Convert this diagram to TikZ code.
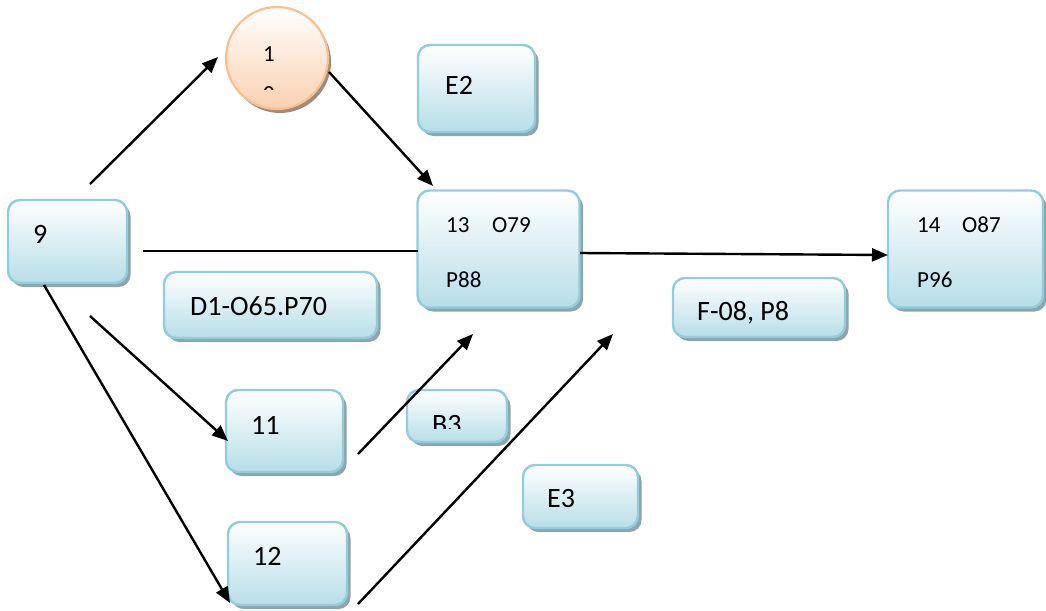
\documentclass[tikz,border=0pt]{standalone}
\usepackage{fontspec}
\setmainfont{Carlito}
\usetikzlibrary{shadows,arrows.meta}
\definecolor{boxborder}{RGB}{146,205,220}
\definecolor{boxfill}{RGB}{183,222,232}
\definecolor{shadowc}{RGB}{140,166,172}
\definecolor{circborder}{RGB}{250,192,143}
\definecolor{circfill}{RGB}{251,208,175}
\definecolor{circshadow}{RGB}{160,140,125}
\tikzset{
  box/.style={draw=boxborder, line width=2.4pt, rounded corners=12pt,
    top color=white, bottom color=boxfill, inner sep=0pt,
    general shadow={fill=shadowc, shadow xshift=3.5pt, shadow yshift=-4pt}},
  circ/.style={circle, draw=circborder, line width=2.2pt, inner sep=0pt,
    top color=white, bottom color=circfill,
    general shadow={fill=circshadow, shadow xshift=3pt, shadow yshift=-4pt}},
  big/.style={anchor=base west, inner sep=0pt, font=\fontsize{28}{34}\selectfont},
  small/.style={anchor=base west, inner sep=0pt, font=\fontsize{23}{27}\selectfont},
  arr/.style={line width=2.4pt, -{Triangle[length=16pt,width=13pt]}},
  ln/.style={line width=2.4pt},
}
\begin{document}
\begin{tikzpicture}[x=1pt,y=-1pt]
\useasboundingbox (0,0) rectangle (1046,610);
% boxes
\node[circ, minimum size=102pt] (n10) at (277,58) {};
\node[box, minimum width=117pt, minimum height=87pt] (e2) at (476.5,88.5) {};
\node[box, minimum width=119pt, minimum height=83pt] (n9) at (67.5,241.5) {};
\node[box, minimum width=162pt, minimum height=117pt] (n13) at (498.5,249) {};
\node[box, minimum width=155pt, minimum height=117pt] (n14) at (965.5,249) {};
\node[box, minimum width=213pt, minimum height=66pt] (d1) at (270.5,305) {};
\node[box, minimum width=172pt, minimum height=59pt] (f08) at (759,307.5) {};
\node[box, minimum width=117pt, minimum height=82pt] (n11) at (284.5,431) {};
\node[box, minimum width=100pt, minimum height=52pt] (b3) at (457,416) {};
\node[box, minimum width=115pt, minimum height=63pt] (e3) at (580.5,496.5) {};
\node[box, minimum width=119pt, minimum height=83pt] (n12) at (287.5,563.5) {};
% texts
\node[small] (t1) at (263,62) {1};
\begin{scope}
\clip (230,60) rectangle (320,89);
\node[small] (t0) at (263,101) {0};
\end{scope}
\node[big] (te2) at (445,94) {E2};
\node[big] (t9) at (33,243) {9};
\node[small] (t13) at (446,232) {13};
\node[small] (to79) at (492,232) {O79};
\node[small] (tp88) at (446,287) {P88};
\node[small] (t14) at (917,232) {14};
\node[small] (to87) at (962,232) {O87};
\node[small] (tp96) at (917,287) {P96};
\node[big] (td1) at (190,315) {D1-O65.P70};
\node[big] (tf08) at (697,320) {F-08, P8};
\node[big] (t11) at (251,434) {11};
\begin{scope}
\clip (410,395) rectangle (505,428);
\node[big] (tb3) at (432,433) {B3};
\end{scope}
\node[big] (te3) at (547,507) {E3};
\node[big] (t12) at (253,565) {12};
% connector end points
\coordinate (a1s) at (90,184);
\coordinate (a1e) at (218,57);
\coordinate (a2s) at (329,72);
\coordinate (a2e) at (433,186);
\coordinate (l3s) at (143,251);
\coordinate (l3e) at (418,251);
\coordinate (a4s) at (580,253);
\coordinate (a4e) at (888,255);
\coordinate (a5s) at (90,316);
\coordinate (a5e) at (228,441);
\coordinate (a6s) at (44,285);
\coordinate (a6e) at (230,603);
\coordinate (a7s) at (358,454);
\coordinate (a7e) at (473,334);
\coordinate (a8s) at (358,604);
\coordinate (a8e) at (613,334);
% connectors
\draw[arr] (a1s) -- (a1e);
\draw[arr] (a2s) -- (a2e);
\draw[ln] (l3s) -- (l3e);
\draw[arr] (a4s) -- (a4e);
\draw[arr] (a5s) -- (a5e);
\draw[arr] (a6s) -- (a6e);
\draw[arr] (a7s) -- (a7e);
\draw[arr] (a8s) -- (a8e);
\end{tikzpicture}
\end{document}
